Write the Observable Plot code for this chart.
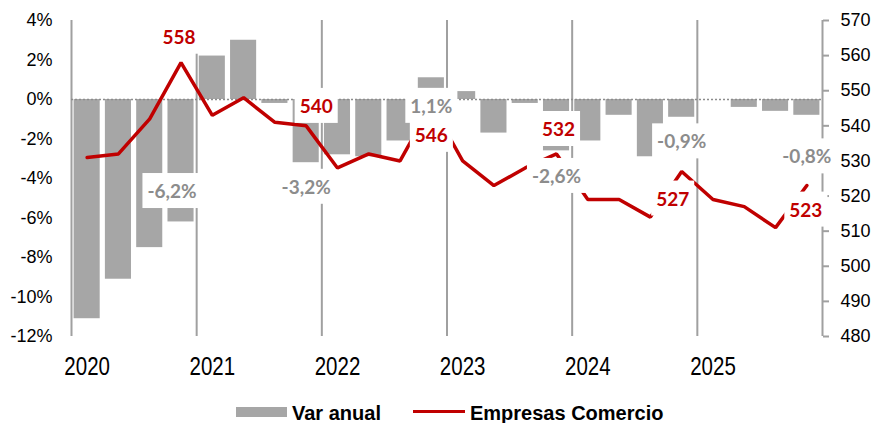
<!DOCTYPE html>
<html>
<head>
<meta charset="utf-8">
<script src="https://cdn.jsdelivr.net/npm/d3@7"></script>
<script src="https://cdn.jsdelivr.net/npm/@observablehq/plot@0.6"></script>
<style>
  body { margin: 0; background: #fff; }
  #wrap { position: relative; width: 881px; height: 423px; overflow: hidden; }
  #legend { position: absolute; left: 0; top: 395px; width: 881px; height: 28px;
            font: bold 20px "Liberation Sans", Arial, sans-serif; color: #000; }
  #legend .sw { position: absolute; }
  #legend .tx { position: absolute; line-height: 20px; white-space: nowrap; }
</style>
</head>
<body>
<div id="wrap">
  <div id="chart"></div>
  <div id="legend">
    <div class="sw" style="left:236px;top:12px;width:51px;height:10px;background:#a6a6a6"></div>
    <div class="tx" style="left:292px;top:8px">Var anual</div>
    <div class="sw" style="left:413px;top:15px;width:52px;height:3px;background:#c00000"></div>
    <div class="tx" style="left:470px;top:8px">Empresas Comercio</div>
  </div>
</div>
<script>
// ---- data ----
const years = ["2020", "2021", "2022", "2023", "2024", "2025"];
const quarters = ["2020T1","2020T2","2020T3","2020T4","2021T1","2021T2","2021T3","2021T4",
                  "2022T1","2022T2","2022T3","2022T4","2023T1","2023T2","2023T3","2023T4",
                  "2024T1","2024T2","2024T3","2024T4","2025T1","2025T2","2025T3","2025T4"];
const varAnual = [-11.1, -9.1, -7.5, -6.2, 2.2, 3.0, -0.2, -3.2,
                  -2.8, -2.9, -2.1, 1.1, 0.4, -1.7, -0.2, -2.6,
                  -2.1, -0.8, -2.9, -0.9, 0.0, -0.4, -0.6, -0.8];
const empresas = [531, 532, 542, 558, 543, 548, 541, 540,
                  528, 532, 530, 546, 530, 523, 528, 532,
                  519, 519, 514, 527, 519, 517, 511, 523];
const leftTicks = [-12, -10, -8, -6, -4, -2, 0, 2, 4];
const rightTicks = [480, 490, 500, 510, 520, 530, 540, 550, 560, 570];
const labelQuarters = [3, 7, 11, 15, 19, 23];

// ---- styles / label offsets (pixels) ----
const lineLabelOffsets = [[-2, -25], [10, -19], [0, 31], [2, -24], [-9, 28], [-1, 25]];
const barLabelOffsets  = [[-9, -30], [0, 25], [0, 29], [0, 26], [0, 25], [0, 42]];
const RED = "#c00000", BAR = "#a6a6a6", GRID = "#a0a0a0", LBLGRAY = "#8c8c8c";

// secondary axis mapping: [480,570] <-> [-12,4]
const L0 = leftTicks[0], L1 = leftTicks[leftTicks.length - 1];
const R0 = rightTicks[0], R1 = rightTicks[rightTicks.length - 1];
const toLeft = v => L0 + (v - R0) * (L1 - L0) / (R1 - R0);
const fromLeft = d => R0 + (d - L0) * (R1 - R0) / (L1 - L0);

const bars = varAnual.map((v, i) => ({i, q: quarters[i], v}));
const pts = empresas.map((v, i) => ({x: i + 0.5, y: toLeft(v), v}));
const yearStarts = years.map((_, k) => k * 4).concat([years.length * 4]);
const fmtPct = v => v.toFixed(1).replace(".", ",") + "%";

const labelFont = {fontFamily: "Lato, 'Open Sans', sans-serif", fontWeight: "bold", fontSize: 19};
const labelMarks = [];
labelQuarters.forEach((qi, k) => {
  labelMarks.push(Plot.text([bars[qi]], {
    x: d => d.i + 0.5, y: "v", text: d => fmtPct(d.v), fill: LBLGRAY,
    dx: barLabelOffsets[k][0], dy: barLabelOffsets[k][1], ...labelFont
  }));
});
labelQuarters.forEach((qi, k) => {
  labelMarks.push(Plot.text([pts[qi]], {
    x: "x", y: "y", text: d => String(d.v), fill: RED,
    dx: lineLabelOffsets[k][0], dy: lineLabelOffsets[k][1], ...labelFont
  }));
});

const chart = Plot.plot({
  width: 881, height: 395,
  marginLeft: 71, marginRight: 59, marginTop: 20, marginBottom: 59,
  style: {fontFamily: "'Liberation Sans', Arial, sans-serif", fontSize: "18px", color: "#000", background: "#fff"},
  x: {domain: [0, quarters.length]},
  y: {domain: [L0, L1]},
  marks: [
    Plot.ruleX(yearStarts, {stroke: GRID, strokeWidth: 2}),
    Plot.rect(bars, {x1: d => d.i, x2: d => d.i + 1, y1: 0, y2: "v", fill: BAR, insetLeft: 2.6, insetRight: 2.6}),
    Plot.ruleY([0], {stroke: "#8c8c8c", strokeWidth: 1.3, strokeDasharray: "2,2"}),
    Plot.line(pts, {x: "x", y: "y", stroke: RED, strokeWidth: 3.5, strokeLinejoin: "miter"}),
    Plot.axisY({anchor: "left", ticks: leftTicks, tickFormat: d => d + "%", tickSize: 0, tickPadding: 19, fontSize: 18, label: null}),
    Plot.axisY({anchor: "right", ticks: rightTicks.map(toLeft), tickFormat: d => String(Math.round(fromLeft(d))),
                tickSize: 6, tickPadding: 12, stroke: GRID, strokeWidth: 2, fontSize: 18, label: null}),
    Plot.axisX({ticks: years.map((_, k) => k * 4 + 0.5), tickFormat: d => years[Math.floor(d / 4)],
                tickSize: 0, tickPadding: 21, fontSize: 25, label: null}),
    ...labelMarks
  ]
});
document.getElementById("chart").appendChild(chart);

const svg = chart.tagName.toLowerCase() === "svg" ? chart : chart.querySelector("svg");

// narrow year labels (condensed look of the original)
svg.querySelectorAll('g[aria-label="x-axis tick label"] text').forEach(t => {
  const tr = t.getAttribute("transform") || "";
  t.setAttribute("transform", tr + " scale(0.82,1)");
});

// white boxes behind data labels
(function () {
  const groups = Array.from(svg.querySelectorAll('g[aria-label="text"]'));
  if (!groups.length) return;
  const sr = svg.getBoundingClientRect();
  const boxG = document.createElementNS("http://www.w3.org/2000/svg", "g");
  const padX = 5, padY = 6;
  groups.forEach(g => g.querySelectorAll("text").forEach(t => {
    const r = t.getBoundingClientRect();
    const rect = document.createElementNS("http://www.w3.org/2000/svg", "rect");
    rect.setAttribute("x", r.left - sr.left - padX);
    rect.setAttribute("y", r.top - sr.top - padY);
    rect.setAttribute("width", r.width + 2 * padX);
    rect.setAttribute("height", r.height + 2 * padY);
    rect.setAttribute("fill", "#fff");
    boxG.appendChild(rect);
  }));
  groups[0].parentNode.insertBefore(boxG, groups[0]);
})();
</script>
</body>
</html>
